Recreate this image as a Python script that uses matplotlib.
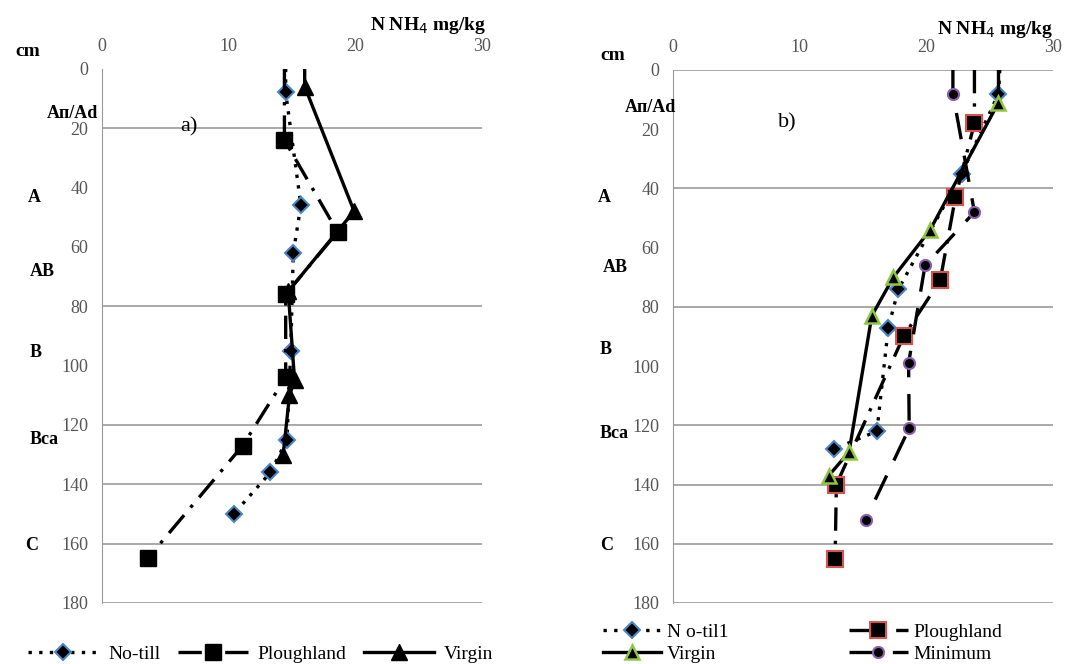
import matplotlib.pyplot as plt

plt.rcParams['font.family'] = ['Liberation Serif', 'DejaVu Serif']

# horizon labels shared by both panels
horizons = ["Aп/Ad", "A", "AB", "B", "Bca", "C"]

# panel a) (depth cm, N NH4 mg/kg); first point of each curve is the depth-0 start
a_notill_depth = [0, 8, 46, 62, 95, 125, 136, 150]
a_notill_val = [14.5, 14.5, 15.7, 15.1, 14.9, 14.6, 13.3, 10.4]
a_plough_depth = [0, 24, 55, 76, 104, 127, 165]
a_plough_val = [14.4, 14.4, 18.6, 14.5, 14.5, 11.1, 3.6]
a_virgin_depth = [0, 6, 48, 75, 105, 110, 130]
a_virgin_val = [16.0, 16.0, 19.9, 14.7, 15.2, 14.8, 14.3]

# panel b)
b_notill_depth = [0, 8, 35, 74, 87, 122, 128]
b_notill_val = [25.8, 25.7, 22.8, 17.8, 17.0, 16.1, 12.7]
b_plough_depth = [0, 18, 43, 71, 90, 140, 165]
b_plough_val = [23.8, 23.8, 22.3, 21.1, 18.2, 12.9, 12.8]
b_virgin_depth = [0, 11, 54, 70, 83, 129, 137]
b_virgin_val = [25.7, 25.7, 20.3, 17.4, 15.7, 13.9, 12.3]
b_minimum_depth = [0, 8, 48, 66, 99, 121, 152]
b_minimum_val = [22.1, 22.1, 23.8, 19.9, 18.6, 18.65, 15.2]

fig = plt.figure(figsize=(10.65, 6.64), dpi=100)
ax1 = fig.add_axes([0.0958, 0.0919, 0.3568, 0.8046])
ax2 = fig.add_axes([0.6319, 0.0919, 0.3568, 0.8027])

lw = 2.4
mk = dict(markevery=slice(1, None))


def setup(ax, grid_levels):
    ax.set_xlim(0, 30)
    ax.set_ylim(180, 0)
    ax.xaxis.tick_top()
    ax.set_xticks([0, 10, 20, 30])
    ax.set_yticks(range(0, 181, 20))
    ax.tick_params(length=0, labelsize=13, labelcolor='#555555', pad=10)
    for s in ['top', 'right', 'bottom']:
        ax.spines[s].set_visible(False)
    ax.spines['left'].set_color('#999999')
    for g in grid_levels:
        ax.axhline(g, color='#999999', lw=1.2, zorder=0)


setup(ax1, [20, 80, 120, 140, 160, 180])
setup(ax2, [0, 40, 80, 120, 140, 160, 180])

ax1.plot(a_notill_val, a_notill_depth, ls=(0, (1, 2.2)), color='black', lw=lw,
         marker='D', ms=8, mfc='black', mec='#4a86c8', mew=1.5, label='No-till', **mk)
ax1.plot(a_plough_val, a_plough_depth, ls=(0, (7, 3, 1, 3)), color='black', lw=lw,
         marker='s', ms=12, mfc='black', mec='black', label='Ploughland', **mk)
ax1.plot(a_virgin_val, a_virgin_depth, ls='-', color='black', lw=lw,
         marker='^', ms=11, mfc='black', mec='black', label='Virgin', **mk)

n1, = ax2.plot(b_notill_val, b_notill_depth, ls=(0, (1, 2.2)), color='black', lw=lw,
               marker='D', ms=8, mfc='black', mec='#4a86c8', mew=1.5, label='N o-til1', **mk)
p1, = ax2.plot(b_plough_val, b_plough_depth, ls=(0, (7, 3, 1, 3)), color='black', lw=lw,
               marker='s', ms=11, mfc='black', mec='#d9534f', mew=1.5, label='Ploughland', **mk)
v1, = ax2.plot(b_virgin_val, b_virgin_depth, ls='-', color='black', lw=lw,
               marker='^', ms=10, mfc='black', mec='#8dc63f', mew=1.8, label='Virgin', **mk)
m1, = ax2.plot(b_minimum_val, b_minimum_depth, ls=(0, (8, 5)), color='black', lw=lw,
               marker='o', ms=8, mfc='black', mec='#8a5fb0', mew=1.5, label='Minimum', **mk)

# horizon labels in figure pixels
left_pos = [(47, 113), (28, 198), (30, 272), (30, 353), (30, 440), (25, 545)]
right_pos = [(625, 107), (598, 197), (603, 268), (600, 350), (600, 434), (600, 546)]
for name, (x, y) in zip(horizons, left_pos):
    fig.text(x / 1065, 1 - y / 664, name, fontsize=13, fontweight='bold', va='center')
for name, (x, y) in zip(horizons, right_pos):
    fig.text(x / 1065, 1 - y / 664, name, fontsize=13, fontweight='bold', va='center')

fig.text(15 / 1065, 1 - 52 / 664, "cm", fontsize=14, fontweight='bold', va='center')
fig.text(600 / 1065, 1 - 55 / 664, "cm", fontsize=14, fontweight='bold', va='center')
fig.text(370 / 1065, 1 - 26 / 664, "N NH$_4$ mg/kg", fontsize=14, fontweight='bold', va='center')
fig.text(937 / 1065, 1 - 30 / 664, "N NH$_4$ mg/kg", fontsize=14, fontweight='bold', va='center')
fig.text(180 / 1065, 1 - 127 / 664, "a)", fontsize=16, va='center')
fig.text(778 / 1065, 1 - 123 / 664, "b)", fontsize=16, va='center')

ax1.legend(loc='center left', bbox_to_anchor=(-0.24, -0.095), ncol=3, frameon=False,
           fontsize=14, handlelength=3.6, columnspacing=0.9, handletextpad=0.5)
ax2.legend([n1, v1, p1, m1], ['N o-til1', 'Virgin', 'Ploughland', 'Minimum'],
           loc='upper left', bbox_to_anchor=(-0.23, -0.005), ncol=2, frameon=False,
           fontsize=14, handlelength=3.0, columnspacing=6.2, handletextpad=0.3,
           labelspacing=0.25)

fig.savefig('out.png', dpi=100)
